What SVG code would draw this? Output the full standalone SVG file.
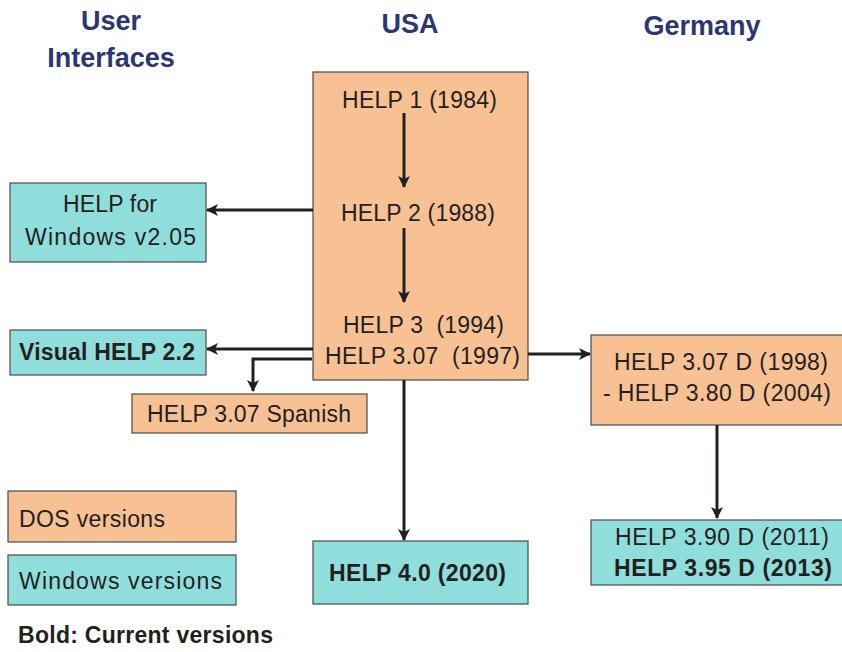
<svg xmlns="http://www.w3.org/2000/svg" width="842" height="652" viewBox="0 0 842 652">
<style>
text{font-family:"Liberation Sans",Arial,sans-serif;fill:#231f20;font-size:23px}
.t{font-weight:bold;fill:#2b3674;font-size:27px;text-anchor:middle}
.b{font-weight:bold}
.c{text-anchor:middle}
.dos{fill:#f8c193;stroke:#4a4a4a;stroke-width:1.2}
.win{fill:#8fdedc;stroke:#4a4a4a;stroke-width:1.2}
.ln{fill:none;stroke:#231f20;stroke-width:3}
</style>
<defs>
<marker id="ah" viewBox="0 0 12 12" markerWidth="12" markerHeight="12" refX="11" refY="6" orient="auto" markerUnits="userSpaceOnUse">
<path d="M0,0 L12,6 L0,12 L3,6 z" fill="#231f20"/>
</marker>
</defs>
<g id="titles">
<text class="t" x="111" y="30">User</text>
<text class="t" x="111" y="67">Interfaces</text>
<text class="t" x="410" y="33">USA</text>
<text class="t" x="702" y="35">Germany</text>
</g>
<g id="usa">
<rect class="dos" x="313" y="72" width="215" height="308"/>
<text class="c" x="419.5" y="108" textLength="155" lengthAdjust="spacing">HELP 1 (1984)</text>
<text class="c" x="418" y="221" textLength="154" lengthAdjust="spacing">HELP 2 (1988)</text>
<text class="c" x="423.5" y="333" textLength="161" lengthAdjust="spacing" xml:space="preserve">HELP 3  (1994)</text>
<text class="c" x="422.5" y="364" textLength="195" lengthAdjust="spacing" xml:space="preserve">HELP 3.07  (1997)</text>
</g>
<g id="help40">
<rect class="win" x="313" y="541" width="215" height="63"/>
<text class="c b" x="417.5" y="581" textLength="177" lengthAdjust="spacing">HELP 4.0 (2020)</text>
</g>
<g id="helpwin">
<rect class="win" x="10" y="183" width="196" height="79"/>
<text class="c" x="110" y="212" textLength="94" lengthAdjust="spacing">HELP for</text>
<text class="c" x="110.5" y="245" textLength="171" lengthAdjust="spacing">Windows v2.05</text>
</g>
<g id="visual">
<rect class="win" x="10" y="330" width="196" height="45"/>
<text class="c b" x="107" y="360" textLength="176" lengthAdjust="spacing">Visual HELP 2.2</text>
</g>
<g id="spanish">
<rect class="dos" x="132" y="394" width="235" height="39"/>
<text class="c" x="249" y="422" textLength="204" lengthAdjust="spacing">HELP 3.07 Spanish</text>
</g>
<g id="germany1">
<rect class="dos" x="591" y="335" width="260" height="90"/>
<text class="c" x="721" y="370" textLength="214" lengthAdjust="spacing">HELP 3.07 D (1998)</text>
<text class="c" x="717" y="401" textLength="228" lengthAdjust="spacing">- HELP 3.80 D (2004)</text>
</g>
<g id="germany2">
<rect class="win" x="591" y="520" width="260" height="65"/>
<text class="c" x="722" y="545" textLength="214" lengthAdjust="spacing">HELP 3.90 D (2011)</text>
<text class="c b" x="723" y="576" textLength="218" lengthAdjust="spacing">HELP 3.95 D (2013)</text>
</g>
<g id="legend">
<rect class="dos" x="8" y="491" width="228" height="51"/>
<text x="19" y="527" textLength="146" lengthAdjust="spacing">DOS versions</text>
<rect class="win" x="8" y="555" width="228" height="50"/>
<text x="19" y="589" textLength="203" lengthAdjust="spacing">Windows versions</text>
<text class="b" x="18" y="643" textLength="255" lengthAdjust="spacing">Bold: Current versions</text>
</g>
<g id="connectors">
<line class="ln" x1="404" y1="113" x2="404" y2="187" marker-end="url(#ah)"/>
<line class="ln" x1="404" y1="228" x2="404" y2="302" marker-end="url(#ah)"/>
<line class="ln" x1="404" y1="380" x2="404" y2="540" marker-end="url(#ah)"/>
<line class="ln" x1="313" y1="210" x2="207" y2="210" marker-end="url(#ah)"/>
<line class="ln" x1="313" y1="349" x2="207" y2="349" marker-end="url(#ah)"/>
<polyline class="ln" points="312,359 253,359 253,391" marker-end="url(#ah)"/>
<line class="ln" x1="528" y1="354" x2="590" y2="354" marker-end="url(#ah)"/>
<line class="ln" x1="717" y1="425" x2="717" y2="518" marker-end="url(#ah)"/>
</g>
</svg>
